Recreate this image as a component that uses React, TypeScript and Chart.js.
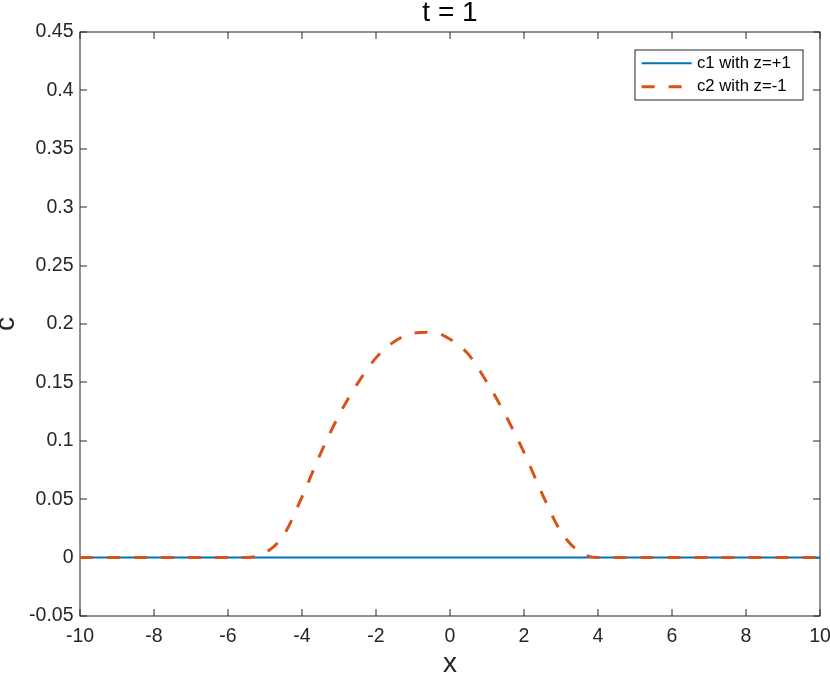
import React, { useEffect, useRef } from "react";
import { Chart, registerables } from "chart.js";

Chart.register(...registerables);

// ---- data ----
const xValues = [
  -10, -9, -8, -7, -6, -5.5, -5, -4.5, -4, -3.5, -3, -2.5, -2, -1.5, -1, -0.5,
  0, 0.5, 1, 1.5, 2, 2.5, 3, 3.5, 4, 5, 6, 7, 8, 9, 10,
];
const c1Values = [
  0, 0, 0, 0, 0, 0, 0, 0, 0, 0, 0, 0, 0, 0, 0, 0,
  0, 0, 0, 0, 0, 0, 0, 0, 0, 0, 0, 0, 0, 0, 0,
];
const c2Values = [
  0, 0, 0, 0, 0, 0, 0.004, 0.019, 0.052, 0.089, 0.122, 0.149, 0.171, 0.185, 0.192, 0.193,
  0.187, 0.174, 0.15, 0.122, 0.09, 0.054, 0.022, 0.005, 0, 0, 0, 0, 0, 0, 0,
];
const seriesLabels = ["c1 with z=+1", "c2 with z=-1"];
const titleText = "t = 1";
const xLabel = "x";
const yLabel = "c";
const xRange = [-10, 10];
const xStep = 2;
const yRange = [-0.05, 0.45];
const yStep = 0.05;

// ---- styles ----
const FONT = "'Liberation Sans', Arial, Helvetica, sans-serif";
const AXIS_COLOR = "#262626";
const BLUE = "#0072BD";
const ORANGE = "#D95319";
const TICK_FONT = 19.5;

const frameTicksPlugin = {
  id: "frameTicks",
  beforeDatasetsDraw(chart: any) {
    const { ctx, chartArea } = chart;
    const { left, right, top, bottom } = chartArea;
    const xs = chart.scales.x;
    const ys = chart.scales.y;
    const L = 7;
    ctx.save();
    ctx.strokeStyle = AXIS_COLOR;
    ctx.lineWidth = 1;
    ctx.beginPath();
    xs.ticks.forEach((t: any) => {
      const px = Math.round(xs.getPixelForValue(t.value));
      ctx.moveTo(px, bottom);
      ctx.lineTo(px, bottom - L);
      ctx.moveTo(px, top);
      ctx.lineTo(px, top + L);
    });
    ys.ticks.forEach((t: any) => {
      const py = Math.round(ys.getPixelForValue(t.value));
      ctx.moveTo(left, py);
      ctx.lineTo(left + L, py);
      ctx.moveTo(right, py);
      ctx.lineTo(right - L, py);
    });
    ctx.stroke();
    ctx.strokeRect(left, top, right - left, bottom - top);
    ctx.restore();
  },
};

const boxLegendPlugin = {
  id: "boxLegend",
  afterDatasetsDraw(chart: any) {
    const { ctx, chartArea } = chart;
    const w = 168;
    const h = 50;
    const lx = Math.round(chartArea.right - 17 - w);
    const ly = Math.round(chartArea.top + 18);
    ctx.save();
    ctx.fillStyle = "#ffffff";
    ctx.fillRect(lx, ly, w, h);
    ctx.strokeStyle = AXIS_COLOR;
    ctx.lineWidth = 1;
    ctx.strokeRect(lx, ly, w, h);
    const rows = [ly + 13.3, ly + 36.7];
    chart.data.datasets.forEach((ds: any, i: number) => {
      const yy = rows[i];
      ctx.beginPath();
      ctx.strokeStyle = ds.borderColor;
      ctx.lineWidth = ds.borderWidth;
      ctx.setLineDash(ds.borderDash || []);
      ctx.moveTo(lx + 6.7, yy);
      ctx.lineTo(lx + 56.7, yy);
      ctx.stroke();
      ctx.setLineDash([]);
      ctx.fillStyle = "#000000";
      ctx.font = `16.7px ${FONT}`;
      ctx.textAlign = "left";
      ctx.textBaseline = "middle";
      ctx.fillText(ds.label, lx + 62, yy);
    });
    ctx.restore();
  },
};

export default function App() {
  const canvasRef = useRef<HTMLCanvasElement | null>(null);

  useEffect(() => {
    if (!canvasRef.current) return;
    const c1 = xValues.map((x, i) => ({ x, y: c1Values[i] }));
    const c2 = xValues.map((x, i) => ({ x, y: c2Values[i] }));
    const chart = new Chart(canvasRef.current, {
      type: "line",
      data: {
        datasets: [
          {
            label: seriesLabels[0],
            data: c1,
            borderColor: BLUE,
            backgroundColor: BLUE,
            borderWidth: 2,
            pointRadius: 0,
            fill: false,
            order: 1,
          },
          {
            label: seriesLabels[1],
            data: c2,
            borderColor: ORANGE,
            backgroundColor: ORANGE,
            borderWidth: 3,
            borderDash: [13, 14],
            borderCapStyle: "butt",
            pointRadius: 0,
            fill: false,
            cubicInterpolationMode: "monotone",
            order: 0,
          },
        ],
      },
      options: {
        responsive: false,
        maintainAspectRatio: false,
        devicePixelRatio: 1,
        animation: false,
        layout: { padding: { left: 0, right: 10, top: 0, bottom: 0 } },
        plugins: {
          legend: { display: false },
          tooltip: { enabled: false },
          title: {
            display: true,
            text: titleText,
            fullSize: false,
            color: "#000000",
            font: { family: FONT, size: 28, weight: "normal", lineHeight: 0.95 },
            padding: { top: 0, bottom: 5.4 },
          },
        },
        scales: {
          x: {
            type: "linear",
            min: xRange[0],
            max: xRange[1],
            grid: { display: false, drawTicks: false },
            border: { display: false },
            ticks: {
              stepSize: xStep,
              padding: 9.3,
              color: AXIS_COLOR,
              maxRotation: 0,
              font: { family: FONT, size: TICK_FONT },
            },
            title: {
              display: true,
              text: xLabel,
              color: AXIS_COLOR,
              font: { family: FONT, size: 28, lineHeight: 1.2 },
              padding: { top: 0, bottom: -1.3 },
            },
            afterFit(scale: any) {
              scale.height = 64;
              scale.paddingRight = 0;
              scale.paddingLeft = 0;
            },
          },
          y: {
            type: "linear",
            min: yRange[0],
            max: yRange[1],
            grid: { display: false, drawTicks: false },
            border: { display: false },
            ticks: {
              stepSize: yStep,
              padding: 6.5,
              color: AXIS_COLOR,
              font: { family: FONT, size: TICK_FONT },
              callback: (v: any) => String(Math.round(Number(v) * 100) / 100),
            },
            title: {
              display: true,
              text: yLabel,
              color: AXIS_COLOR,
              font: { family: FONT, size: 28, lineHeight: 1.2 },
              padding: { top: -10.8, bottom: 0 },
            },
            afterFit(scale: any) {
              scale.width = 80;
            },
          },
        },
      },
      plugins: [frameTicksPlugin, boxLegendPlugin],
    } as any);
    return () => chart.destroy();
  }, []);

  return (
    <div style={{ position: "absolute", left: 0, top: 0, width: 830, height: 680, background: "#fff" }}>
      <canvas ref={canvasRef} width={830} height={680} style={{ width: 830, height: 680 }} />
    </div>
  );
}
